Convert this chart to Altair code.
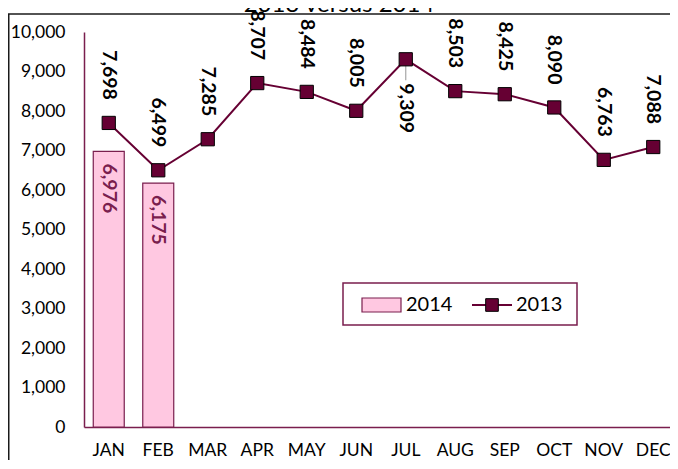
import altair as alt
import pandas as pd

# ---- data ----
months = ["JAN", "FEB", "MAR", "APR", "MAY", "JUN", "JUL", "AUG", "SEP", "OCT", "NOV", "DEC"]
sales_2013 = [7698, 6499, 7285, 8707, 8484, 8005, 9309, 8503, 8425, 8090, 6763, 7088]
months_2014 = ["JAN", "FEB"]
sales_2014 = [6976, 6175]
series_names = ["2014", "2013"]
title_text = "2013 versus 2014"
y_ticks = [0, 1000, 2000, 3000, 4000, 5000, 6000, 7000, 8000, 9000, 10000]

df13 = pd.DataFrame({"month": months, "value": sales_2013})
df14 = pd.DataFrame({"month": months_2014, "value": sales_2014})
one = pd.DataFrame({"a": [0]})

FONT = "Lato"
MAROON = "#660033"
AXIS = "#7A1E4E"
PINK = "#FFC8E1"

x_enc = alt.X(
    "month:N",
    sort=months,
    scale=alt.Scale(domain=months, paddingInner=0.374, paddingOuter=0.187),
    axis=alt.Axis(
        title=None, labelAngle=0, ticks=False, domainColor=AXIS, domainWidth=1.5,
        labelFont=FONT, labelFontSize=17.5, labelColor="#000", labelPadding=14,
    ),
)
y_enc = alt.Y(
    "value:Q",
    scale=alt.Scale(domain=[0, 10000], nice=False),
    axis=alt.Axis(
        title=None, values=y_ticks, format=",.0f", ticks=False, grid=False,
        labelOverlap=False, domainColor=AXIS, domainWidth=1.5, labelFont=FONT,
        labelFontSize=17.5, labelColor="#000", labelPadding=19,
    ),
)
text_val = alt.Text("value:Q", format=",")

# outer frame (left and top edges; the rest lies outside the picture) and clipped title
frame_left = alt.Chart(one).mark_rule(stroke="#1a1a1a", strokeWidth=1.5).encode(
    x=alt.value(-75.25), y=alt.value(-18), y2=alt.value(480)
)
frame_top = alt.Chart(one).mark_rule(stroke="#1a1a1a", strokeWidth=1.5).encode(
    x=alt.value(-76), x2=alt.value(600), y=alt.value(-18)
)
title = alt.Chart(one).mark_text(
    text=title_text, font=FONT, fontSize=24, align="center", baseline="alphabetic", color="#000"
).encode(x=alt.value(255), y=alt.value(-20))

bars = alt.Chart(df14).mark_bar(fill=PINK, stroke=AXIS, strokeWidth=1.2).encode(x=x_enc, y=y_enc)

bar_labels = alt.Chart(df14).mark_text(
    angle=90, align="left", baseline="middle", yOffset=12, font=FONT, fontSize=19.5,
    fontWeight="bold", color=AXIS,
).encode(x=x_enc, y=y_enc, text=text_val)

line = alt.Chart(df13).mark_line(color=MAROON, strokeWidth=2).encode(x=x_enc, y=y_enc)

leader = alt.Chart(df13).transform_filter(alt.datum.month == "JUL").mark_rule(
    color="#A6A6A6", strokeWidth=1.2, y2Offset=21
).encode(x=x_enc, y=y_enc, y2=alt.Y2("value:Q"))

points = alt.Chart(df13).mark_square(
    size=175, fill=MAROON, stroke="#000", strokeWidth=1, opacity=1
).encode(x=x_enc, y=y_enc)

labels_above = alt.Chart(df13).transform_filter(alt.datum.month != "JUL").mark_text(
    angle=90, align="right", baseline="middle", yOffset=-23, font=FONT, fontSize=19.5,
    fontWeight="bold", color="#000",
).encode(x=x_enc, y=y_enc, text=text_val)

labels_below = alt.Chart(df13).transform_filter(alt.datum.month == "JUL").mark_text(
    angle=90, align="left", baseline="middle", yOffset=24, font=FONT, fontSize=19.5,
    fontWeight="bold", color="#000",
).encode(x=x_enc, y=y_enc, text=text_val)

# legend
leg_box = alt.Chart(one).mark_rect(fill="white", stroke=AXIS, strokeWidth=1.5).encode(
    x=alt.value(259), x2=alt.value(493), y=alt.value(251), y2=alt.value(293)
)
leg_swatch = alt.Chart(one).mark_rect(fill=PINK, stroke=AXIS, strokeWidth=1.2).encode(
    x=alt.value(278), x2=alt.value(317), y=alt.value(266), y2=alt.value(280)
)
leg_t1 = alt.Chart(one).mark_text(
    text=series_names[0], font=FONT, fontSize=20, align="left", baseline="middle", color="#000"
).encode(x=alt.value(322), y=alt.value(273))
leg_line = alt.Chart(one).mark_rule(color=MAROON, strokeWidth=2).encode(
    x=alt.value(388), x2=alt.value(428), y=alt.value(273)
)
leg_sq = alt.Chart(one).mark_square(size=160, fill=MAROON, stroke="#000", strokeWidth=1, opacity=1).encode(
    x=alt.value(408), y=alt.value(273)
)
leg_t2 = alt.Chart(one).mark_text(
    text=series_names[1], font=FONT, fontSize=20, align="left", baseline="middle", color="#000"
).encode(x=alt.value(432), y=alt.value(273))

chart = alt.layer(
    frame_left, frame_top, title, bars, bar_labels, line, leader, points, labels_above, labels_below,
    leg_box, leg_swatch, leg_t1, leg_line, leg_sq, leg_t2,
).properties(
    width=594, height=395,
    padding={"left": 76, "top": 24, "right": -8, "bottom": 33},
    autosize=alt.AutoSizeParams(type="none"),
).configure_view(stroke=None)

chart.save("out.html", embed_options={"renderer": "svg", "actions": False})
